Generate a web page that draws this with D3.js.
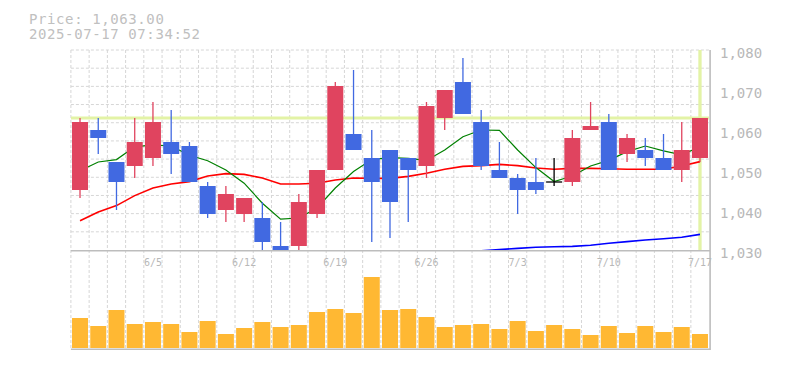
<!DOCTYPE html>
<html><head><meta charset="utf-8">
<script src="https://cdn.jsdelivr.net/npm/d3@7/dist/d3.min.js"></script>
<style>
html,body{margin:0;padding:0;background:#fff;}
svg{display:block;}
text{font-family:"DejaVu Sans Mono",monospace;}
</style></head>
<body>
<div id="chart"></div>
<script>
const dates = ["5/30","6/2","6/3","6/4","6/5","6/6","6/9","6/10","6/11","6/12","6/13","6/16","6/17","6/18","6/19","6/20","6/23","6/24","6/25","6/26","6/27","6/30","7/1","7/2","7/3","7/4","7/7","7/8","7/9","7/10","7/11","7/14","7/15","7/16","7/17"];
const opens  = [1045,1060,1052,1051,1053,1057,1056,1046,1040,1039,1038,1031,1031,1039,1050,1059,1053,1055,1053,1051,1063,1072,1062,1050,1048,1047,1047,1047,1060,1062,1054,1055,1053,1050,1053];
const highs  = [1063,1063,1052,1063,1067,1065,1057,1047,1046,1043,1042,1037,1044,1050,1072,1075,1060,1055,1053,1067,1070,1078,1065,1057,1049,1053,1053,1060,1067,1064,1059,1058,1059,1062,1063];
const lows   = [1043,1054,1040,1048,1051,1049,1047,1038,1037,1037,1030,1028,1030,1038,1050,1055,1032,1033,1037,1048,1060,1064,1050,1048,1039,1044,1046,1046,1060,1050,1052,1051,1050,1047,1052];
const closes = [1062,1058,1047,1057,1062,1054,1047,1039,1044,1043,1032,1029,1042,1050,1071,1055,1047,1042,1050,1066,1070,1064,1051,1048,1045,1045,1047,1058,1061,1050,1058,1053,1050,1055,1063];
const volumes = [30,22,38,24,26,24,16,27,14,20,26,21,23,36,39,35,71,38,39,31,21,23,24,19,27,17,23,19,13,22,15,22,16,21,14];
const ma5  = [1049.8,1052.0,1052.6,1055.8,1056.3,1056.0,1053.7,1052.3,1050.0,1046.7,1041.7,1037.7,1038.0,1040.5,1045.5,1049.6,1052.6,1053.1,1052.9,1052.4,1055.0,1058.3,1060.0,1059.9,1055.0,1050.6,1047.1,1048.5,1051.0,1052.4,1054.6,1056.0,1054.8,1053.8,1055.8];
const ma25 = [1037.3,1039.5,1041.1,1043.6,1045.5,1046.5,1047.1,1048.5,1049.1,1048.9,1048.0,1046.5,1046.5,1046.7,1047.5,1048.0,1047.9,1047.9,1048.4,1049.2,1050.2,1050.9,1051.1,1051.4,1051.1,1050.5,1050.2,1050.4,1050.4,1050.3,1050.2,1050.2,1050.2,1051.0,1052.1];
const ma75 = [null,null,null,null,null,null,null,null,null,null,null,null,null,null,null,null,null,null,null,null,null,null,1029.8,1030.1,1030.4,1030.7,1030.8,1030.9,1031.2,1031.7,1032.1,1032.5,1032.8,1033.2,1033.9];
const priceTicks = [1030,1040,1050,1060,1070,1080];
const dateTicks = ["6/5","6/12","6/19","6/26","7/3","7/10","7/17"];
const lastPrice = 1063;
const headerLines = ["Price: 1,063.00", "2025-07-17 07:34:52"];

const W = 785, H = 370;
const svg = d3.select("#chart").append("svg").attr("width", W).attr("height", H);

const x = d3.scaleBand().domain(dates).range([70.9, 709.1]).paddingInner(0.1226).paddingOuter(0.0613);
const step = x.step();
const bw = x.bandwidth();
const cx = d => x(d) + bw / 2;
const y = d3.scaleLinear().domain([1030, 1080]).range([250, 50]);
const yv = d3.scaleLinear().domain([0, 100]).range([348, 248]);

const left = x.range()[0], right = x.range()[1];
const gridColor = "#d6d6d6";

// header text
svg.selectAll("text.hdr").data(headerLines).join("text")
  .attr("class", "hdr")
  .attr("x", 29).attr("y", (d, i) => 23.5 + i * 15)
  .attr("font-size", 14).attr("letter-spacing", 0.6)
  .attr("fill", "#c0c0c0").text(d => d);

// grid: vertical (price + volume panels)
const boundaries = dates.map(d => x(d) - x.paddingInner() * step / 2);
svg.append("g").selectAll("line").data(boundaries).join("line")
  .attr("x1", d => d).attr("x2", d => d)
  .attr("y1", y(1080)).attr("y2", yv(0) + 1)
  .attr("stroke", gridColor).attr("stroke-dasharray", "3,2");

// grid: horizontal in price panel (11 divisions)
const hGrid = d3.range(11).map(k => 1080 - k * 50 / 11);
svg.append("g").selectAll("line").data(hGrid).join("line")
  .attr("x1", left).attr("x2", right)
  .attr("y1", d => y(d)).attr("y2", d => y(d))
  .attr("stroke", gridColor).attr("stroke-dasharray", "3,2");

// clip
svg.append("defs").append("clipPath").attr("id", "plot")
  .append("rect").attr("x", left).attr("y", y(1080)).attr("width", right - left).attr("height", y(1030) - y(1080));

const plot = svg.append("g").attr("clip-path", "url(#plot)");

// last price highlight lines
const hl = "#e3f3a6";
plot.append("line").attr("x1", left).attr("x2", right)
  .attr("y1", y(lastPrice)).attr("y2", y(lastPrice))
  .attr("stroke", hl).attr("stroke-width", 3);
plot.append("line").attr("x1", cx(dates[dates.length - 1])).attr("x2", cx(dates[dates.length - 1]))
  .attr("y1", y(1080)).attr("y2", y(1030))
  .attr("stroke", hl).attr("stroke-width", 3.3);

// moving averages
function maLine(vals, color, width) {
  const line = d3.line().defined(d => d[1] != null).x(d => cx(d[0])).y(d => y(d[1]));
  plot.append("path").datum(dates.map((d, i) => [d, vals[i]]))
    .attr("d", line).attr("fill", "none").attr("stroke", color).attr("stroke-width", width);
}
maLine(ma75, "#0000ff", 1.6);
maLine(ma25, "#ff0000", 1.6);
maLine(ma5, "#008000", 1.2);

// candles
const upC = "#e0445f", dnC = "#4169e1", flatC = "#000000";
const candles = dates.map((d, i) => ({d, o: opens[i], h: highs[i], l: lows[i], c: closes[i]}));
const col = k => k.c > k.o ? upC : (k.c < k.o ? dnC : flatC);
const cg = plot.append("g");
cg.selectAll("line.wick").data(candles).join("line").attr("class", "wick")
  .attr("x1", k => cx(k.d)).attr("x2", k => cx(k.d))
  .attr("y1", k => y(k.h)).attr("y2", k => y(k.l))
  .attr("stroke", col).attr("stroke-width", 1.3);
cg.selectAll("rect.body").data(candles.filter(k => k.o !== k.c)).join("rect").attr("class", "body")
  .attr("x", k => x(k.d)).attr("width", bw)
  .attr("y", k => y(Math.max(k.o, k.c)))
  .attr("height", k => y(Math.min(k.o, k.c)) - y(Math.max(k.o, k.c)))
  .attr("fill", col);
cg.selectAll("line.doji").data(candles.filter(k => k.o === k.c)).join("line").attr("class", "doji")
  .attr("x1", k => x(k.d)).attr("x2", k => x(k.d) + bw)
  .attr("y1", k => y(k.c)).attr("y2", k => y(k.c))
  .attr("stroke", flatC).attr("stroke-width", 1.3);

// volume bars
svg.append("g").selectAll("rect").data(dates).join("rect")
  .attr("x", d => x(d)).attr("width", bw)
  .attr("y", (d, i) => yv(volumes[i]))
  .attr("height", (d, i) => yv(0) - yv(volumes[i]))
  .attr("fill", "#ffb833");

// borders
const bc = "#bdbdbd";
svg.append("line").attr("x1", left).attr("x2", right + 1).attr("y1", y(1030) + 0.7).attr("y2", y(1030) + 0.7)
  .attr("stroke", bc).attr("stroke-width", 1.6);
svg.append("line").attr("x1", left).attr("x2", right + 1).attr("y1", yv(0) + 1.3).attr("y2", yv(0) + 1.3)
  .attr("stroke", bc).attr("stroke-width", 1.6);
svg.append("line").attr("x1", right + 1).attr("x2", right + 1).attr("y1", y(1080)).attr("y2", yv(0) + 2)
  .attr("stroke", bc).attr("stroke-width", 1.6);

// price axis labels
svg.append("g").selectAll("text").data(priceTicks).join("text")
  .attr("x", 720).attr("y", d => y(d) + 8)
  .attr("font-size", 14).attr("fill", "#b8b8b8")
  .text(d => d3.format(",")(d));

// date labels
svg.append("g").selectAll("text").data(dateTicks).join("text")
  .attr("x", d => cx(d)).attr("y", 266)
  .attr("text-anchor", "middle")
  .attr("font-size", 10).attr("fill", "#b8b8b8")
  .text(d => d);
</script>
</body></html>
